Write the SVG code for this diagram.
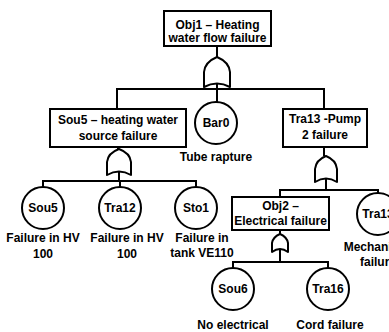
<svg xmlns="http://www.w3.org/2000/svg" width="389" height="332" viewBox="0 0 389 332">
<defs>
<style>
.box{fill:#fff;stroke:#000;stroke-width:2}
.ev{fill:#fff;stroke:#000;stroke-width:2}
.gate{fill:#fff;stroke:#000;stroke-width:2;stroke-linejoin:round}
.ln{fill:none;stroke:#000;stroke-width:2}
text{font-family:"Liberation Sans",Arial,sans-serif;font-weight:bold;font-size:12px;fill:#000;text-anchor:middle}
</style>
</defs>
<rect width="389" height="332" fill="#fff"/>
<g id="connectors">
<path class="ln" d="M217,46V57"/>
<path class="ln" d="M217,83V102"/>
<path class="ln" d="M117,109V89H324V109"/>
<path class="ln" d="M118,147V149"/>
<path class="ln" d="M119,172V181"/>
<path class="ln" d="M43,187V181H196V187"/>
<path class="ln" d="M120,181V187"/>
<path class="ln" d="M324,147V156"/>
<path class="ln" d="M326,179V190"/>
<path class="ln" d="M280,197V190H378V193"/>
<path class="ln" d="M280,230V234"/>
<path class="ln" d="M280,249V262"/>
<path class="ln" d="M233,268V262H328V268"/>
</g>
<g id="obj1">
<rect class="box" x="164" y="11" width="107" height="35"/>
<text x="217.5" y="29">Obj1 – Heating</text>
<text x="217.5" y="42">water flow failure</text>
</g>
<g id="gate1">
<path class="gate" d="M204,87V72Q205,62 217,57Q229,62 230,72V87Q217,80 204,87Z"/>
</g>
<g id="bar0">
<circle class="ev" cx="216" cy="123" r="21"/>
<text x="216" y="127">Bar0</text>
<text x="216" y="161">Tube rapture</text>
</g>
<g id="sou5box">
<rect class="box" x="50" y="109" width="136" height="38"/>
<text x="118" y="124">Sou5 – heating water</text>
<text x="118" y="140">source failure</text>
</g>
<g id="gate2">
<path class="gate" d="M107,175V162Q108,153 119,149Q130,153 131,162V175Q119,168 107,175Z"/>
</g>
<g id="sou5">
<circle class="ev" cx="43" cy="208" r="21"/>
<text x="43" y="212">Sou5</text>
<text x="43" y="242">Failure in HV</text>
<text x="43" y="258">100</text>
</g>
<g id="tra12">
<circle class="ev" cx="120" cy="208" r="21"/>
<text x="120" y="212">Tra12</text>
<text x="127" y="242">Failure in HV</text>
<text x="127" y="258">100</text>
</g>
<g id="sto1">
<circle class="ev" cx="196" cy="208" r="21"/>
<text x="196" y="212">Sto1</text>
<text x="202" y="242">Failure in</text>
<text x="202" y="257">tank VE110</text>
</g>
<g id="tra13box">
<rect class="box" x="283" y="109" width="84" height="38"/>
<text x="325" y="123">Tra13 -Pump</text>
<text x="325" y="139">2 failure</text>
</g>
<g id="gate3">
<path class="gate" d="M315,182V169Q316,160 326,156Q336,160 337,169V182Q326,175 315,182Z"/>
</g>
<g id="obj2">
<rect class="box" x="232" y="197" width="97" height="33"/>
<text x="280.5" y="210">Obj2 –</text>
<text x="280.5" y="225">Electrical failure</text>
</g>
<g id="gate4">
<path class="gate" d="M272,252V243Q273,237 280,234Q287,237 288,243V252Q280,246 272,252Z"/>
</g>
<g id="tra13">
<circle class="ev" cx="378" cy="214" r="21"/>
<text x="378" y="218">Tra13</text>
<text x="376" y="251">Mechanical</text>
<text x="378" y="266">failure</text>
</g>
<g id="sou6">
<circle class="ev" cx="233" cy="289" r="21"/>
<text x="233" y="293">Sou6</text>
<text x="233" y="329">No electrical</text>
</g>
<g id="tra16">
<circle class="ev" cx="328" cy="289" r="21"/>
<text x="328" y="293">Tra16</text>
<text x="330" y="329">Cord failure</text>
</g>
</svg>
